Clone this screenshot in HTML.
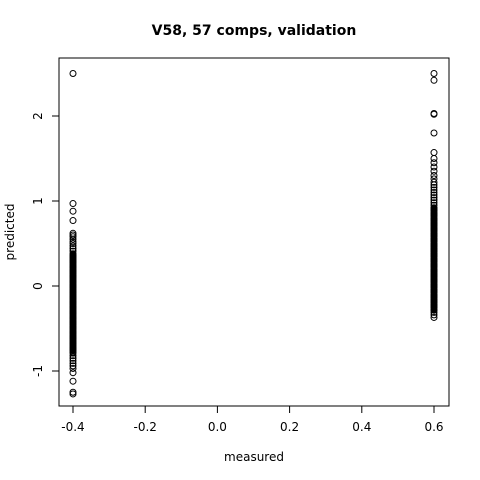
<!DOCTYPE html>
<html><head><meta charset="utf-8"><style>
body{margin:0;background:#fff;}
svg{display:block;font-family:"DejaVu Sans","Liberation Sans",sans-serif;}
</style></head><body>
<svg id="chart" width="480" height="480">
<text x="254" y="35" text-anchor="middle" font-size="14" font-weight="bold">V58, 57 comps, validation</text>
<rect x="59" y="58" width="390" height="348" fill="none" stroke="#000"/>
<g id="xaxis"></g>
<g id="yaxis"></g>
<text x="254" y="461" text-anchor="middle" font-size="12">measured</text>
<text transform="translate(14,232) rotate(-90)" text-anchor="middle" font-size="12">predicted</text>
<g id="points"></g>
</svg>
<script>
const xTicks=[-0.4,-0.2,0.0,0.2,0.4,0.6];
const xTickLabels=["-0.4","-0.2","0.0","0.2","0.4","0.6"];
const yTicks=[-1,0,1,2];
const yTickLabels=["-1","0","1","2"];
const groupX=[-0.4,0.6];
const predLow=[2.5,0.97,0.88,0.77,0.62,0.6,0.58,0.55,0.52,0.5,0.47,0.44,0.41,0.38,0.35,0.32,0.29,0.26,0.23,0.2,0.17,0.14,0.11,0.08,0.05,0.02,-0.01,-0.04,-0.07,-0.1,-0.13,-0.16,-0.19,-0.22,-0.25,-0.28,-0.31,-0.34,-0.37,-0.4,-0.43,-0.46,-0.49,-0.52,-0.55,-0.58,-0.61,-0.64,-0.67,-0.7,-0.73,-0.76,-0.79,-0.82,-0.85,-0.88,-0.91,-0.94,-0.97,-1.02,-1.12,-1.25,-1.27,
0.36,0.335,0.305,0.275,0.245,0.215,0.185,0.155,0.125,0.095,0.065,0.035,0.005,-0.025,-0.055,-0.085,-0.115,-0.145,-0.175,-0.205,-0.235,-0.265,-0.295,-0.325,-0.355,-0.385,-0.415,-0.445,-0.475,-0.505,-0.535,-0.565,-0.595,-0.625,-0.655,-0.685,-0.715,-0.745,-0.775,
0.345,0.29,0.23,0.17,0.11,0.05,-0.01,-0.07,-0.13,-0.19,-0.25,-0.31,-0.37,-0.43,-0.49,-0.55,-0.61,-0.67,-0.73];
const predHigh=[2.5,2.42,2.03,2.02,1.8,1.57,1.5,1.45,1.4,1.35,1.3,1.26,1.22,1.19,1.16,1.13,1.1,1.07,1.04,1.01,0.98,0.95,0.92,0.89,0.86,0.83,0.8,0.77,0.74,0.71,0.68,0.65,0.62,0.59,0.56,0.53,0.5,0.47,0.44,0.41,0.38,0.35,0.32,0.29,0.26,0.23,0.2,0.17,0.14,0.11,0.08,0.05,0.02,-0.01,-0.04,-0.07,-0.1,-0.13,-0.16,-0.19,-0.22,-0.25,-0.28,-0.31,-0.34,-0.37,
0.915,0.885,0.855,0.825,0.795,0.765,0.735,0.705,0.675,0.645,0.615,0.585,0.555,0.525,0.495,0.465,0.435,0.405,0.375,0.345,0.315,0.285,0.255,0.225,0.195,0.165,0.135,0.105,0.075,0.045,0.015,-0.015,-0.045,-0.075,-0.105,-0.135,-0.165,-0.195,-0.225,-0.255,-0.285,
0.9,0.84,0.78,0.72,0.66,0.6,0.54,0.48,0.42,0.36,0.3,0.24,0.18,0.12,0.06,0.0,-0.06,-0.12,-0.18,-0.24];
const NS="http://www.w3.org/2000/svg";
const sx=v=>73+(v+0.4)*361;
const sy=v=>286-v*85;
function mk(tag,attrs,parent){const e=document.createElementNS(NS,tag);for(const k in attrs)e.setAttribute(k,attrs[k]);parent.appendChild(e);return e;}
const xa=document.getElementById('xaxis'),ya=document.getElementById('yaxis'),pg=document.getElementById('points');
mk('line',{x1:sx(xTicks[0]),x2:sx(xTicks[xTicks.length-1]),y1:406,y2:406,stroke:'#000'},xa);
xTicks.forEach((t,i)=>{
 const l=mk('line',{x1:sx(t),x2:sx(t),y1:406,y2:413,stroke:'#000'},xa);
 
 
 const tx=mk('text',{x:sx(t),y:431,'text-anchor':'middle','font-size':12},xa);
 tx.textContent=xTickLabels[i];
 
 
});
mk('line',{x1:59,x2:59,y1:sy(yTicks[0]),y2:sy(yTicks[yTicks.length-1]),stroke:'#000'},ya);
yTicks.forEach((t,i)=>{
 const l=mk('line',{x1:52,x2:59,y1:sy(t),y2:sy(t),stroke:'#000'},ya);
 
 
 const tx=mk('text',{transform:`translate(42,${sy(t)}) rotate(-90)`,'text-anchor':'middle','font-size':12},ya);
 tx.textContent=yTickLabels[i];
 
 
});
[predLow,predHigh].forEach((arr,g)=>{
 arr.forEach(v=>{
  // points in heavily overplotted regions appear solid
  let n=0; arr.forEach(w=>{if(Math.abs(w-v)<=0.04)n++;});
  const dense=n>=5;
  const c=mk('circle',{cx:sx(groupX[g]),cy:sy(v),r:3,fill:dense?'#000':'none',stroke:'#000','stroke-width':1},pg);
  
  
 });
});
</script>
</body></html>
